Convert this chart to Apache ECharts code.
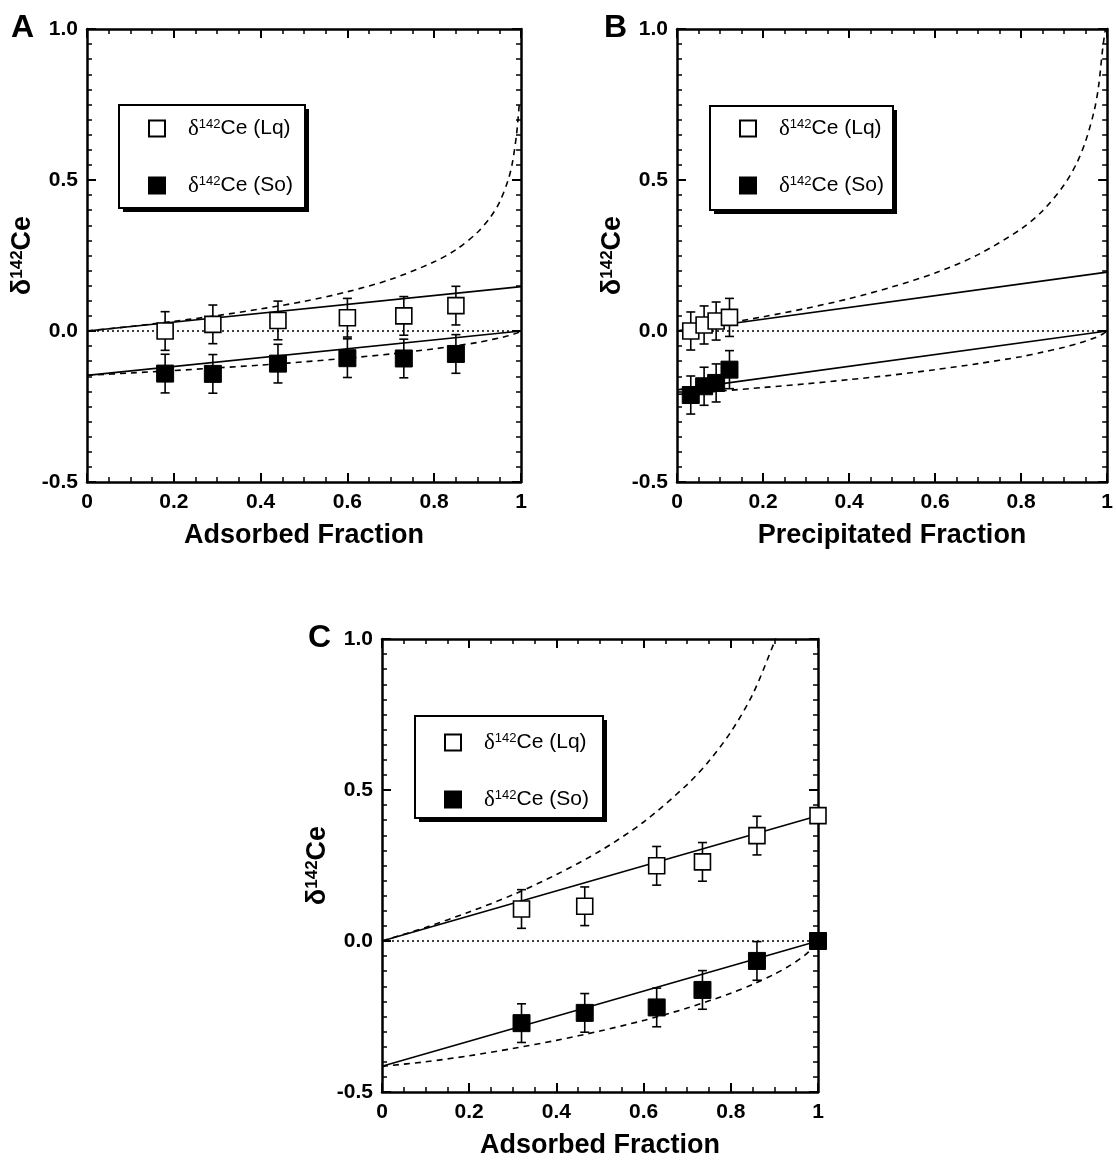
<!DOCTYPE html>
<html>
<head>
<meta charset="utf-8">
<title>δ142Ce fractionation</title>
<script src="https://cdn.jsdelivr.net/npm/echarts@6/dist/echarts.min.js"></script>
<style>
html,body{margin:0;padding:0;background:#fff;}
#chart{width:1116px;height:1160px;}
</style>
</head>
<body>
<div id="chart"></div>
<script>
var FONT = "'Liberation Sans', Arial, Helvetica, sans-serif";

// panel A - adsorption experiment
var aFrac = [0.18, 0.29, 0.44, 0.60, 0.73, 0.85];
var aLq   = [0.000, 0.022, 0.035, 0.044, 0.050, 0.084];
var aSo   = [-0.141, -0.142, -0.108, -0.090, -0.091, -0.076];
var aErr  = [0.064, 0.064, 0.064, 0.064, 0.064, 0.064];
var aLineLq = [0, 0.147];
var aLineSo = [-0.147, 0];
var aRayLq = [0, 0.015, 0.032, 0.051, 0.073, 0.098, 0.130, 0.171, 0.229, 0.269, 0.327, 0.378, 0.425, 0.498, 0.556, 0.654, 0.752];
var aRaySo = [-0.147, -0.139, -0.131, -0.122, -0.113, -0.102, -0.090, -0.076, -0.059, -0.049, -0.038, -0.029, -0.023, -0.016, -0.012, -0.007, 0];

// panel B - precipitation experiment
var bFrac = [0.032, 0.063, 0.091, 0.122];
var bLq   = [0.000, 0.020, 0.033, 0.045];
var bSo   = [-0.212, -0.183, -0.172, -0.128];
var bErr  = [0.063, 0.063, 0.063, 0.063];
var bLineLq = [0, 0.195];
var bLineSo = [-0.195, 0];
var bRayLq = [0, 0.022, 0.047, 0.075, 0.107, 0.146, 0.192, 0.253, 0.338, 0.398, 0.484, 0.558, 0.629, 0.730, 0.810, 0.940, 1.000];
var bRaySo = [-0.210, -0.199, -0.187, -0.175, -0.161, -0.146, -0.128, -0.108, -0.085, -0.070, -0.054, -0.042, -0.033, -0.023, -0.017, -0.010, 0];

// panel C - adsorption experiment 2
var cFrac = [0.32, 0.465, 0.63, 0.735, 0.86, 1.0];
var cLq   = [0.106, 0.115, 0.249, 0.262, 0.349, 0.415];
var cSo   = [-0.272, -0.238, -0.220, -0.162, -0.066, 0.000];
var cErr  = [0.064, 0.064, 0.064, 0.064, 0.064, 0];
var cLineLq = [0, 0.415];
var cLineSo = [-0.415, 0];
var cRayLqFrac = [0, 0.1, 0.2, 0.3, 0.4, 0.5, 0.6, 0.7, 0.75, 0.8, 0.85, 0.9, 0.905];
var cRayLq = [0, 0.045, 0.096, 0.153, 0.220, 0.298, 0.394, 0.518, 0.596, 0.692, 0.816, 0.990, 1.012];
var cRaySo = [-0.415, -0.400, -0.380, -0.356, -0.329, -0.298, -0.263, -0.222, -0.173, -0.144, -0.110, -0.086, -0.068, -0.047, -0.034, -0.020, 0];

// shared x values
var lineEnds   = [0, 1];
var rayLqFrac  = [0, 0.1, 0.2, 0.3, 0.4, 0.5, 0.6, 0.7, 0.8, 0.85, 0.9, 0.93, 0.95, 0.97, 0.98, 0.99, 0.996];
var raySoFrac  = [0, 0.1, 0.2, 0.3, 0.4, 0.5, 0.6, 0.7, 0.8, 0.85, 0.9, 0.93, 0.95, 0.97, 0.98, 0.99, 1];

var panels = [
  {letter:'A', grid:{left:87, top:29, width:434, height:453}, xName:'Adsorbed Fraction',
   frac:aFrac, lq:aLq, so:aSo, err:aErr, lineLq:aLineLq, lineSo:aLineSo,
   rayLqX:rayLqFrac, rayLq:aRayLq, raySo:aRaySo,
   box:[119,105,186,103], legendAt:[148,117], title:[11,12]},
  {letter:'B', grid:{left:677, top:29, width:434, height:453}, xName:'Precipitated Fraction',
   frac:bFrac, lq:bLq, so:bSo, err:bErr, lineLq:bLineLq, lineSo:bLineSo,
   rayLqX:rayLqFrac, rayLq:bRayLq, raySo:bRaySo,
   box:[710,106,183,104], legendAt:[739,117], title:[604,12]},
  {letter:'C', grid:{left:382, top:639, width:436, height:457}, xName:'Adsorbed Fraction',
   frac:cFrac, lq:cLq, so:cSo, err:cErr, lineLq:cLineLq, lineSo:cLineSo,
   rayLqX:cRayLqFrac, rayLq:cRayLq, raySo:cRaySo,
   box:[415,716,188,102], legendAt:[444,731], title:[308,622]}
];

function pairs(xs, ys) {
  return xs.map(function (x, i) { return [x, ys[i]]; });
}

var labelStyle = {fontFamily:FONT, fontWeight:'bold', fontSize:21, color:'#000'};
var lineAxis = {onZero:false, lineStyle:{color:'#000', width:2.5}};

var option = {
  animation:false,
  backgroundColor:'#fff',
  title:[], grid:[], xAxis:[], yAxis:[], legend:[], series:[], graphic:[]
};

function errSeries(g, xs, ys, errs) {
  var data = [];
  xs.forEach(function (x, i) {
    if (errs[i] > 0) data.push([x, ys[i] - errs[i], ys[i] + errs[i]]);
  });
  return {
    type:'custom', xAxisIndex:2*g, yAxisIndex:2*g, z:3, silent:true,
    encode:{x:0, y:[1,2]}, data:data,
    renderItem:function (params, api) {
      var lo = api.coord([api.value(0), api.value(1)]);
      var hi = api.coord([api.value(0), api.value(2)]);
      var w = 4.5, st = {stroke:'#000', lineWidth:1.6};
      return {type:'group', children:[
        {type:'line', shape:{x1:lo[0], y1:lo[1], x2:hi[0], y2:hi[1]}, style:st},
        {type:'line', shape:{x1:lo[0]-w, y1:lo[1], x2:lo[0]+w, y2:lo[1]}, style:st},
        {type:'line', shape:{x1:hi[0]-w, y1:hi[1], x2:hi[0]+w, y2:hi[1]}, style:st}
      ]};
    }
  };
}

function lineSeries(g, data, type, width, smooth) {
  return {
    type:'line', xAxisIndex:2*g, yAxisIndex:2*g, data:data, z:2, silent:true,
    showSymbol:false, symbol:'none', smooth:smooth || false, clip:true,
    lineStyle:{color:'#000', width:width, type:type}
  };
}

panels.forEach(function (p, g) {
  option.grid.push(p.grid);
  option.title.push({text:p.letter, left:p.title[0], top:p.title[1], padding:0,
    textStyle:{fontFamily:FONT, fontWeight:'bold', fontSize:32, color:'#000'}});

  // bottom + top x axes
  option.xAxis.push({
    gridIndex:g, type:'value', min:0, max:1, interval:0.2, position:'bottom',
    name:p.xName, nameLocation:'middle', nameGap:40,
    nameTextStyle:{fontFamily:FONT, fontWeight:'bold', fontSize:27, color:'#000'},
    axisLine:lineAxis,
    axisTick:{inside:true, length:9, lineStyle:{color:'#000', width:2}},
    minorTick:{show:true, splitNumber:4, length:5, lineStyle:{color:'#000', width:1.5}},
    axisLabel:Object.assign({margin:10}, labelStyle),
    splitLine:{show:false}
  });
  option.xAxis.push({
    gridIndex:g, type:'value', min:0, max:1, interval:0.2, position:'top',
    axisLine:lineAxis,
    axisTick:{inside:true, length:9, lineStyle:{color:'#000', width:2}},
    minorTick:{show:true, splitNumber:4, length:5, lineStyle:{color:'#000', width:1.5}},
    axisLabel:{show:false}, splitLine:{show:false}
  });
  // left + right y axes
  option.yAxis.push({
    gridIndex:g, type:'value', min:-0.5, max:1, interval:0.5, position:'left',
    name:'{b|δ}{s|142}{b|Ce}', nameLocation:'middle', nameGap:50, nameRotate:90,
    nameTextStyle:{fontFamily:FONT, fontWeight:'bold', fontSize:27, color:'#000',
      rich:{b:{fontFamily:FONT, fontWeight:'bold', fontSize:27, color:'#000'},
            s:{fontFamily:FONT, fontWeight:'bold', fontSize:17, color:'#000', padding:[0,0,11,0]}}},
    axisLine:lineAxis,
    axisTick:{inside:true, length:9, lineStyle:{color:'#000', width:2}},
    minorTick:{show:true, splitNumber:10, length:5, lineStyle:{color:'#000', width:1.5}},
    axisLabel:Object.assign({margin:9, formatter:function (v) { return v.toFixed(1); }}, labelStyle),
    splitLine:{show:false}
  });
  option.yAxis.push({
    gridIndex:g, type:'value', min:-0.5, max:1, interval:0.5, position:'right',
    axisLine:lineAxis,
    axisTick:{inside:true, length:9, lineStyle:{color:'#000', width:2}},
    minorTick:{show:true, splitNumber:10, length:5, lineStyle:{color:'#000', width:1.5}},
    axisLabel:{show:false}, splitLine:{show:false}
  });

  // legend frame with drop shadow
  var b = p.box;
  option.graphic.push({type:'rect', z:5, silent:true,
    shape:{x:b[0]+4, y:b[1]+4, width:b[2], height:b[3]}, style:{fill:'#000'}});
  option.graphic.push({type:'rect', z:6, silent:true,
    shape:{x:b[0], y:b[1], width:b[2], height:b[3]}, style:{fill:'#fff', stroke:'#000', lineWidth:2}});
  option.legend.push({
    left:p.legendAt[0], top:p.legendAt[1], orient:'vertical', padding:0, z:10,
    itemWidth:16, itemHeight:16, itemGap:34, selectedMode:false,
    data:['Lq', 'So'],
    formatter:function (name) { return '{d|δ}{s|142}{t|Ce (' + name + ')}'; },
    textStyle:{fontFamily:FONT, fontSize:21, color:'#000',
      rich:{d:{fontFamily:"'Liberation Serif', serif", fontSize:23, color:'#000', padding:[0,0,0,18]},
            s:{fontFamily:FONT, fontSize:13, color:'#000', padding:[0,0,9,0]},
            t:{fontFamily:FONT, fontSize:21, color:'#000'}}}
  });

  // zero reference
  var s = option.series;
  s.push(lineSeries(g, pairs(lineEnds, [0, 0]), [2, 3], 1.5));
  // closed-system (solid) and Rayleigh (dashed) models
  s.push(lineSeries(g, pairs(lineEnds, p.lineLq), 'solid', 1.6));
  s.push(lineSeries(g, pairs(lineEnds, p.lineSo), 'solid', 1.6));
  s.push(lineSeries(g, pairs(p.rayLqX, p.rayLq), [6, 5], 1.6, 0.3));
  s.push(lineSeries(g, pairs(raySoFrac, p.raySo), [6, 5], 1.6, 0.3));
  // error bars
  s.push(errSeries(g, p.frac, p.lq, p.err));
  s.push(errSeries(g, p.frac, p.so, p.err));
  // measured points
  s.push({name:'Lq', type:'scatter', xAxisIndex:2*g, yAxisIndex:2*g, z:4,
    symbol:'rect', symbolSize:16, data:pairs(p.frac, p.lq),
    itemStyle:{color:'#fff', borderColor:'#000', borderWidth:1.6, opacity:1}});
  s.push({name:'So', type:'scatter', xAxisIndex:2*g, yAxisIndex:2*g, z:4,
    symbol:'rect', symbolSize:17, data:pairs(p.frac, p.so),
    itemStyle:{color:'#000', borderColor:'#000', borderWidth:1, opacity:1}});
});

var chart = echarts.init(document.getElementById('chart'), null, {renderer:'canvas'});
chart.setOption(option);
</script>
</body>
</html>
